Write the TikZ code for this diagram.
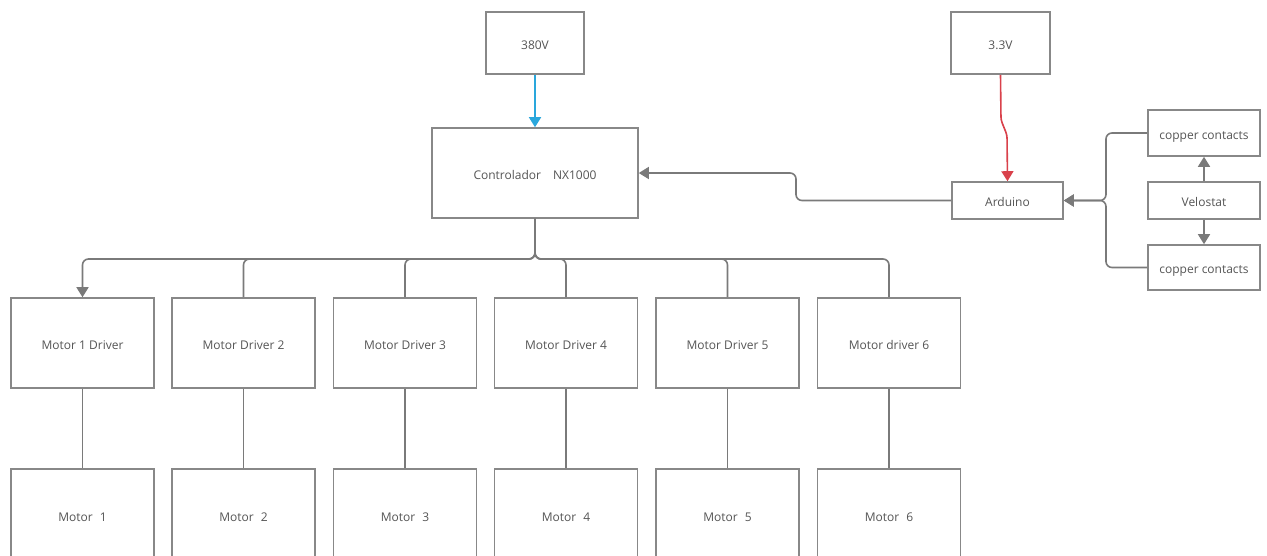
\documentclass[tikz,border=0pt]{standalone}
\usepackage{fontspec}
\setmainfont{Open Sans}
\usetikzlibrary{arrows.meta,calc}
\definecolor{boxc}{HTML}{888888}
\definecolor{txtc}{HTML}{555555}
\definecolor{linec}{HTML}{7A7A7A}
\definecolor{bluec}{HTML}{2AA7DC}
\definecolor{redc}{HTML}{D9414B}
\begin{document}
\begin{tikzpicture}[x=1pt,y=-1pt,
  box/.style={draw=boxc,line width=1.6pt,fill=white,text=txtc,font=\fontsize{12}{14}\selectfont,inner sep=0pt,anchor=center,text height=12.4pt,text depth=0pt},
  drv/.style={box,minimum width=143pt,minimum height=90pt},
  conn/.style={draw=linec,line width=1.6pt,rounded corners=6pt},
  tip/.style={-{Triangle[length=10pt,width=12pt]}}]
\clip (0,0) rectangle (1267,555);
\fill[white] (0,0) rectangle (1267,555);
% top sources
\node[box,minimum width=98pt,minimum height=62pt] (v380) at (535,43) {380V};
\node[box,minimum width=99pt,minimum height=62pt] (v33) at (1000.5,43) {3.3V};
\node[box,minimum width=206pt,minimum height=90pt] (ctrl) at (535,173) {Controlador\hspace{12pt}NX1000};
\node[box,minimum width=111pt,minimum height=37pt] (ard) at (1007.5,200.5) {Arduino};
\node[box,minimum width=112pt,minimum height=46pt] (cu1) at (1204,133) {copper contacts};
\node[box,minimum width=112pt,minimum height=37pt] (velo) at (1204,200.5) {Velostat};
\node[box,minimum width=112pt,minimum height=45pt] (cu2) at (1204,267.5) {copper contacts};
% drivers
\node[drv] (d1) at (82.5,343) {Motor 1 Driver};
\node[drv] (d2) at (243.5,343) {Motor Driver 2};
\node[drv] (d3) at (405,343) {Motor Driver 3};
\node[drv] (d4) at (566,343) {Motor Driver 4};
\node[drv] (d5) at (727.5,343) {Motor Driver 5};
\node[drv] (d6) at (889,343) {Motor driver 6};
% motors
\node[drv,minimum height=92pt] (m1) at (82.5,515) {Motor\hspace{7pt}1};
\node[drv,minimum height=92pt] (m2) at (243.5,515) {Motor\hspace{7pt}2};
\node[drv,minimum height=92pt] (m3) at (405,515) {Motor\hspace{7pt}3};
\node[drv,minimum height=92pt] (m4) at (566,515) {Motor\hspace{7pt}4};
\node[drv,minimum height=92pt] (m5) at (727.5,515) {Motor\hspace{7pt}5};
\node[drv,minimum height=92pt] (m6) at (889,515) {Motor\hspace{7pt}6};
% coordinates
\coordinate (bus) at (0,259);
\coordinate (jogA) at (1001,120);
\coordinate (jogB) at (1007,135);
\coordinate (ardx) at (796,0);
\coordinate (cux) at (1106,0);
% power
\draw[line width=1.6pt,draw=bluec,tip] (v380.south) -- (ctrl.north);
\draw[line width=1.6pt,draw=redc,tip,rounded corners=3pt] (v33.south) -- (jogA) -- (jogB) -- (ard.north);
% arduino -> controller
\draw[conn,tip] (ard.west) -- (ardx |- ard.west) -- (ardx |- ctrl.east) -- (ctrl.east);
% copper -> arduino
\draw[conn,tip] (cu1.west) -- (cux |- cu1.west) -- (cux |- ard.east) -- (ard.east);
\draw[conn,tip] (cu2.west) -- (cux |- cu2.west) -- (cux |- ard.east) -- (ard.east);
% velostat
\draw[conn,tip] (velo.north) -- (cu1.south);
\draw[conn,tip] (velo.south) -- (cu2.north);
% bus
\draw[conn,tip] (ctrl.south) -- (ctrl.south |- bus) -- (d1.north |- bus) -- (d1.north);
\foreach \d in {d2,d3,d4,d5,d6}{
  \draw[conn] (ctrl.south) -- (ctrl.south |- bus) -- (\d.north |- bus) -- (\d.north);
}
% driver -> motor
\foreach \i in {1,...,6}{
  \draw[conn] (d\i.south) -- (m\i.north);
}
\end{tikzpicture}
\end{document}
